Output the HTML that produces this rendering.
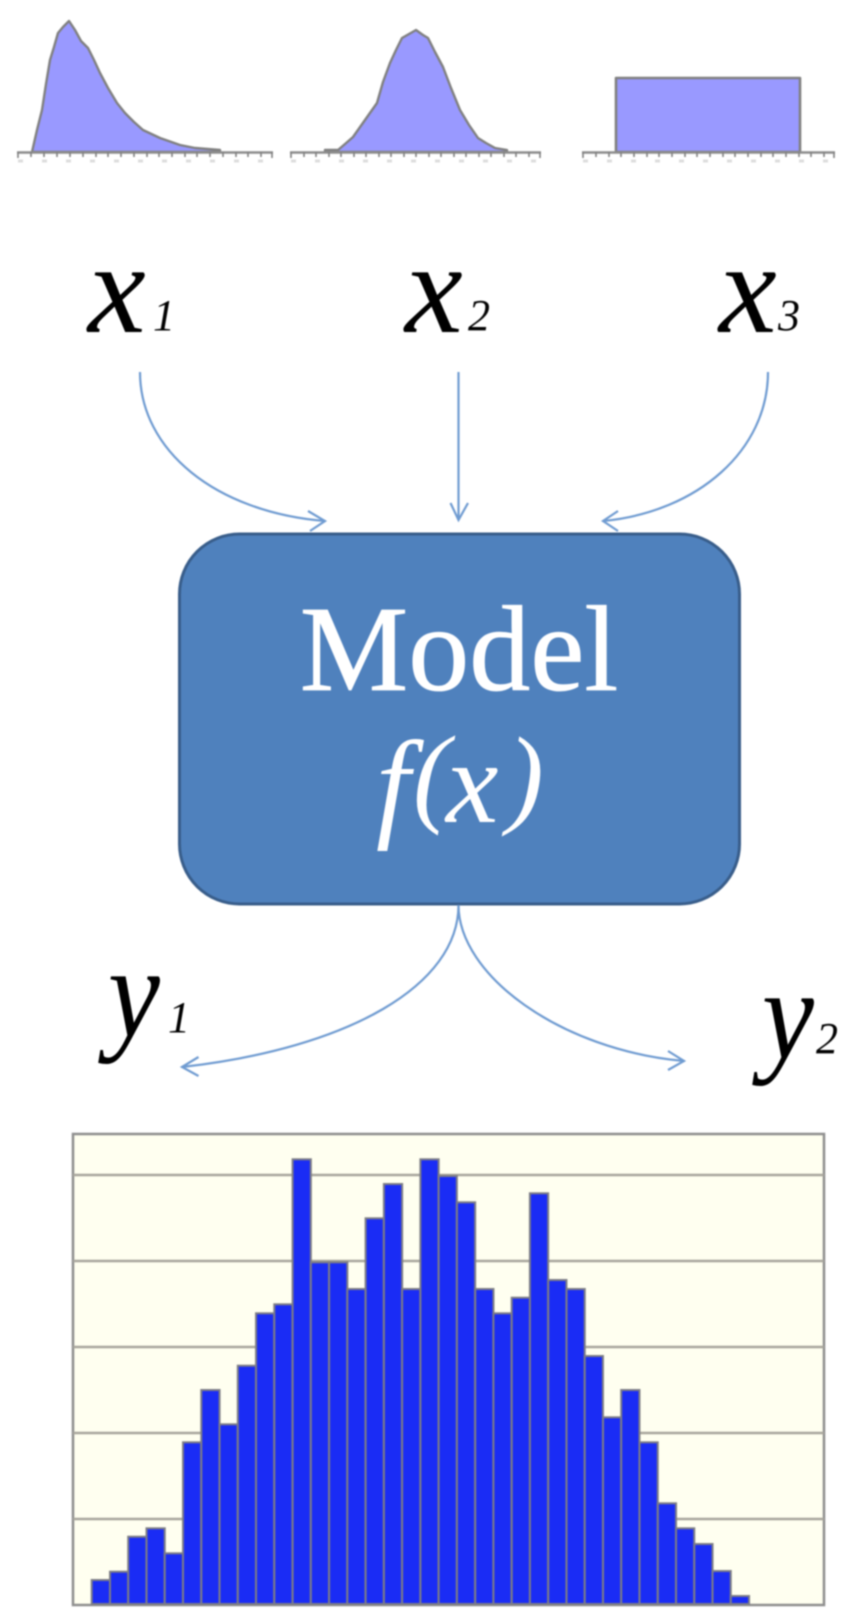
<!DOCTYPE html>
<html>
<head>
<meta charset="utf-8">
<style>
html,body{margin:0;padding:0;background:#fff;width:857px;height:1620px;overflow:hidden}
svg{display:block;filter:blur(0.8px)}
text{font-family:"Liberation Serif",serif}
</style>
</head>
<body>
<svg width="857" height="1620" viewBox="0 0 857 1620" xmlns="http://www.w3.org/2000/svg">
<rect width="857" height="1620" fill="#fff"/>

<!-- distributions -->
<g fill="#9999ff" stroke="#808080" stroke-width="2.4" stroke-linejoin="round">
<path d="M32,152 L37,130 L42,110 L46,84 L50,60 L54,47 L58,33 L63,27 L69,21 L75,30 L81,41 L88,48 L94,60 L100,73 L108,88 L117,103 L125,113 L134,122 L143,130 L160,138 L180,145 L195,148 L220,150 L220,152 L32,152Z"/>
<path d="M325,150 L338,150 L345,144 L353,137 L365,120 L377,103 L383,82 L390,63 L396,50 L402,38 L409,34 L416,30 L423,35 L428,38 L435,52 L443,67 L451,88 L460,110 L469,125 L478,138 L486,143 L495,148 L507,150 L507,152 L325,152Z"/>
<rect x="616" y="78" width="184" height="74" stroke-width="2.6"/>
</g>
<g stroke="#8c8c8c" stroke-width="2.5" fill="none">
<path d="M17,152.5H273"/><path d="M290,152.5H541"/><path d="M582,152.5H835"/>
</g>
<g stroke="#808080" stroke-width="1.6" fill="none">
<path d="M18,152v6M31,152v5M44,152v5M57,152v5M70,152v5M83,152v5M96,152v5M108,152v5M121,152v5M134,152v5M147,152v5M159,152v5M172,152v5M185,152v5M197,152v5M210,152v5M223,152v5M236,152v5M248,152v5M261,152v5M272,152v6"/>
<path d="M291,152v6M304,152v5M316,152v5M329,152v5M341,152v5M354,152v5M366,152v5M379,152v5M391,152v5M404,152v5M416,152v5M429,152v5M441,152v5M454,152v5M466,152v5M479,152v5M491,152v5M504,152v5M516,152v5M529,152v5M540,152v6"/>
<path d="M583,152v6M596,152v5M609,152v5M621,152v5M634,152v5M647,152v5M659,152v5M672,152v5M685,152v5M697,152v5M710,152v5M723,152v5M735,152v5M748,152v5M761,152v5M773,152v5M786,152v5M799,152v5M811,152v5M824,152v5M834,152v6"/>
</g>
<g stroke="#dddddd" stroke-width="3" stroke-dasharray="5 19" fill="none">
<path d="M18,161H273"/><path d="M291,161H541"/><path d="M583,161H835"/>
</g>

<!-- x labels -->
<g fill="#000" font-style="italic">
<text x="88" y="332" font-size="130">x</text>
<text x="153" y="330" font-size="44">1</text>
<text x="405" y="332" font-size="130">x</text>
<text x="468" y="330" font-size="44">2</text>
<text x="719" y="332" font-size="130">x</text>
<text x="778" y="330" font-size="44">3</text>
</g>

<!-- input arrows -->
<g fill="none" stroke="#6f9bd1" stroke-width="2.2">
<path d="M140,372 C140,450 215,512 325,521"/>
<path d="M308,511 L325,521 L310,531"/>
<path d="M458.5,372 V520"/>
<path d="M450.5,503 L458.5,520 L468,503"/>
<path d="M768,372 C768,450 698,512 603,521"/>
<path d="M618,511 L603,521 L618,531"/>
</g>

<!-- model box -->
<rect x="179.5" y="534" width="560" height="370" rx="60" ry="60" fill="#4f81bd" stroke="#385d8a" stroke-width="3"/>
<text x="459" y="690" font-size="122" fill="#fff" stroke="#fff" stroke-width="0.8" text-anchor="middle">Model</text>
<g fill="#fff" font-style="italic">
<text x="376" y="825" font-size="122">f</text>
<text x="413" y="812" font-size="110">(</text>
<text x="446" y="822" font-size="118">x</text>
<text x="507" y="813" font-size="110">)</text>
</g>

<!-- output arrows -->
<g fill="none" stroke="#6f9bd1" stroke-width="2.2">
<path d="M458.5,905 C458.5,985 350,1048 182,1067"/>
<path d="M198.5,1057 L182,1067 L198.5,1076"/>
<path d="M458.5,905 C458.5,975 560,1050 684,1061"/>
<path d="M668,1051 L684,1061 L668,1070"/>
</g>

<!-- y labels -->
<g fill="#000" font-style="italic">
<text transform="translate(108,1036) scale(0.9,1)" font-size="130">y</text>
<text x="168" y="1032" font-size="44">1</text>
<text transform="translate(762,1058) scale(0.9,1)" font-size="130">y</text>
<text x="816" y="1053" font-size="44">2</text>
</g>

<!-- histogram -->
<rect x="73" y="1134" width="751" height="471" fill="#fffff0" stroke="#8e8e8e" stroke-width="2.5"/>
<g stroke="#a8a69c" stroke-width="2.5">
<path d="M73,1175H824"/><path d="M73,1261H824"/><path d="M73,1347H824"/><path d="M73,1433H824"/><path d="M73,1519H824"/>
</g>
<g fill="#1a2cf5" stroke="#7d7d85" stroke-width="2">
<rect x="91.7" y="1580" width="18.26" height="24"/>
<rect x="110" y="1571.7" width="18.26" height="32.3"/>
<rect x="128.2" y="1536.7" width="18.26" height="67.3"/>
<rect x="146.5" y="1528.3" width="18.26" height="75.7"/>
<rect x="164.7" y="1553.3" width="18.26" height="50.7"/>
<rect x="183" y="1442.3" width="18.26" height="161.7"/>
<rect x="201.3" y="1390" width="18.26" height="214"/>
<rect x="219.5" y="1424.3" width="18.26" height="179.7"/>
<rect x="237.8" y="1365.7" width="18.26" height="238.3"/>
<rect x="256" y="1313.3" width="18.26" height="290.7"/>
<rect x="274.3" y="1304.3" width="18.26" height="299.7"/>
<rect x="292.6" y="1159.3" width="18.26" height="444.7"/>
<rect x="310.8" y="1262.3" width="18.26" height="341.7"/>
<rect x="329.1" y="1262.3" width="18.26" height="341.7"/>
<rect x="347.3" y="1289" width="18.26" height="315"/>
<rect x="365.6" y="1218.3" width="18.26" height="385.7"/>
<rect x="383.9" y="1184" width="18.26" height="420"/>
<rect x="402.1" y="1289" width="18.26" height="315"/>
<rect x="420.4" y="1159.3" width="18.26" height="444.7"/>
<rect x="438.6" y="1176" width="18.26" height="428"/>
<rect x="456.9" y="1202.3" width="18.26" height="401.7"/>
<rect x="475.2" y="1289" width="18.26" height="315"/>
<rect x="493.4" y="1313.3" width="18.26" height="290.7"/>
<rect x="511.7" y="1297.7" width="18.26" height="306.3"/>
<rect x="529.9" y="1193.3" width="18.26" height="410.7"/>
<rect x="548.2" y="1280" width="18.26" height="324"/>
<rect x="566.5" y="1289" width="18.26" height="315"/>
<rect x="584.7" y="1356" width="18.26" height="248"/>
<rect x="603" y="1417.3" width="18.26" height="186.7"/>
<rect x="621.2" y="1390" width="18.26" height="214"/>
<rect x="639.5" y="1442.3" width="18.26" height="161.7"/>
<rect x="657.8" y="1503.3" width="18.26" height="100.7"/>
<rect x="676" y="1528.3" width="18.26" height="75.7"/>
<rect x="694.3" y="1544" width="18.26" height="60"/>
<rect x="712.5" y="1571" width="18.26" height="33"/>
<rect x="730.8" y="1596" width="18.26" height="8"/>
</g>
</svg>
</body>
</html>
